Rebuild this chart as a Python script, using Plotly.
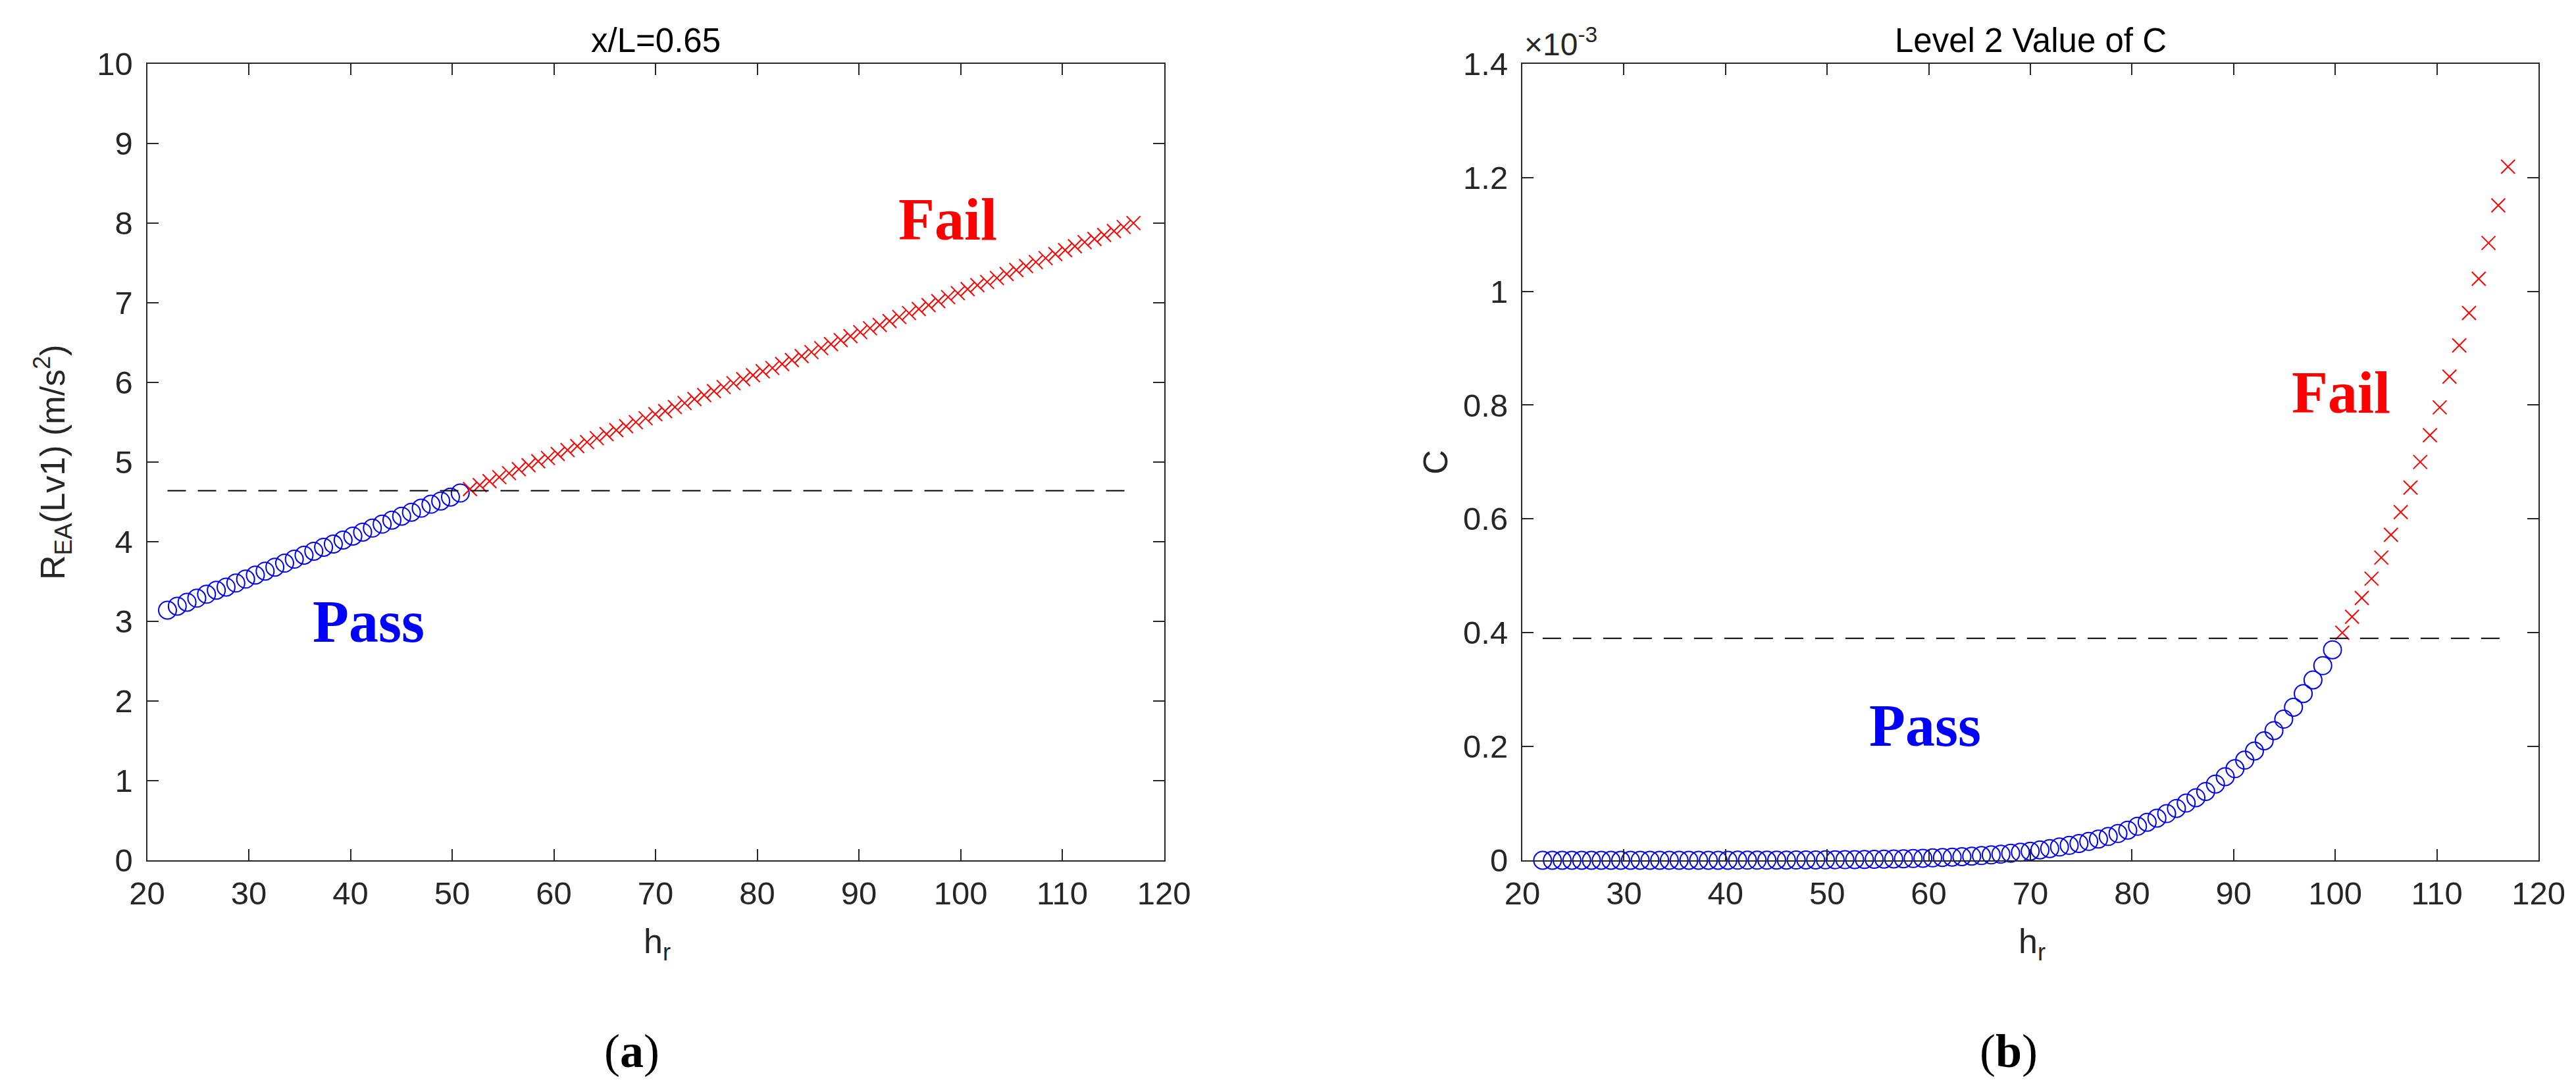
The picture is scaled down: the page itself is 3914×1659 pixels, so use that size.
import plotly.graph_objects as go

# h_r values (100 points from 22 to 117)
hr = [22.00, 22.96, 23.92, 24.88, 25.84, 26.80, 27.76, 28.72, 29.68, 30.64,
      31.60, 32.56, 33.52, 34.47, 35.43, 36.39, 37.35, 38.31, 39.27, 40.23,
      41.19, 42.15, 43.11, 44.07, 45.03, 45.99, 46.95, 47.91, 48.87, 49.83,
      50.79, 51.75, 52.71, 53.67, 54.63, 55.59, 56.55, 57.51, 58.46, 59.42,
      60.38, 61.34, 62.30, 63.26, 64.22, 65.18, 66.14, 67.10, 68.06, 69.02,
      69.98, 70.94, 71.90, 72.86, 73.82, 74.78, 75.74, 76.70, 77.66, 78.62,
      79.58, 80.54, 81.49, 82.45, 83.41, 84.37, 85.33, 86.29, 87.25, 88.21,
      89.17, 90.13, 91.09, 92.05, 93.01, 93.97, 94.93, 95.89, 96.85, 97.81,
      98.77, 99.73, 100.69, 101.65, 102.61, 103.57, 104.53, 105.48, 106.44, 107.40,
      108.36, 109.32, 110.28, 111.24, 112.20, 113.16, 114.12, 115.08, 116.04, 117.00]

# (a) R_EA(Lv1), m/s^2
r_ea_pass = [3.14, 3.19, 3.24, 3.29, 3.34, 3.39, 3.43, 3.48, 3.53, 3.58,
             3.63, 3.68, 3.73, 3.78, 3.83, 3.88, 3.93, 3.97, 4.02, 4.07,
             4.12, 4.17, 4.22, 4.27, 4.32, 4.37, 4.42, 4.47, 4.51, 4.56,
             4.61]
r_ea_fail = [4.66, 4.71, 4.76, 4.81, 4.86, 4.91, 4.96, 5.01, 5.05,
             5.10, 5.15, 5.20, 5.25, 5.30, 5.35, 5.40, 5.45, 5.50, 5.55,
             5.60, 5.64, 5.69, 5.74, 5.79, 5.84, 5.89, 5.94, 5.99, 6.04,
             6.09, 6.14, 6.18, 6.23, 6.28, 6.33, 6.38, 6.43, 6.48, 6.53,
             6.58, 6.63, 6.68, 6.72, 6.77, 6.82, 6.87, 6.92, 6.97, 7.02,
             7.07, 7.12, 7.17, 7.22, 7.26, 7.31, 7.36, 7.41, 7.46, 7.51,
             7.56, 7.61, 7.66, 7.71, 7.76, 7.80, 7.85, 7.90, 7.95, 8.00]
r_ea_limit = 4.64

# (b) C, in units of 1e-3
c_pass = [0.0000, 0.0000, 0.0000, 0.0000, 0.0000, 0.0000, 0.0000, 0.0000, 0.0000, 0.0001,
          0.0001, 0.0001, 0.0001, 0.0001, 0.0001, 0.0001, 0.0001, 0.0001, 0.0001, 0.0001,
          0.0002, 0.0002, 0.0002, 0.0002, 0.0003, 0.0004, 0.0005, 0.0006, 0.0007, 0.0008,
          0.0009, 0.0011, 0.0013, 0.0015, 0.0017, 0.0020, 0.0023, 0.0027, 0.0031, 0.0036,
          0.0042, 0.0049, 0.0056, 0.0064, 0.0073, 0.0083, 0.0095, 0.0108, 0.0124, 0.0141,
          0.0160, 0.0182, 0.0206, 0.0233, 0.0262, 0.0295, 0.0332, 0.0373, 0.0418, 0.0470,
          0.0530, 0.0598, 0.0668, 0.0740, 0.0820, 0.0912, 0.1005, 0.1100, 0.1210, 0.1340,
          0.1470, 0.1610, 0.1760, 0.1920, 0.2100, 0.2280, 0.2480, 0.2690, 0.2930, 0.3170,
          0.3420, 0.3700]
c_fail = [0.400, 0.428, 0.461, 0.495, 0.532, 0.572, 0.612, 0.655, 0.700, 0.747,
          0.796, 0.850, 0.905, 0.962, 1.022, 1.085, 1.151, 1.219]
c_limit = 0.39

x_ticks = [20, 30, 40, 50, 60, 70, 80, 90, 100, 110, 120]
ya_ticks = [0, 1, 2, 3, 4, 5, 6, 7, 8, 9, 10]
yb_ticks = [0, 0.2, 0.4, 0.6, 0.8, 1.0, 1.2, 1.4]
yb_labels = ["0", "0.2", "0.4", "0.6", "0.8", "1", "1.2", "1.4"]

W, H = 3914, 1659
BLUE, RED, AX = "#0000FF", "#FF0000", "#262626"
SANS, SERIF = "Liberation Sans", "Liberation Serif"

na, nb = len(r_ea_pass), len(c_pass)

fig = go.Figure()

circle = dict(symbol="circle-open", size=27, color=BLUE, line=dict(width=2, color=BLUE))
cross = dict(symbol="x-thin-open", size=21, color=RED, line=dict(width=2, color=RED))
dash = dict(color="black", width=2, dash="28px,18px")

# panel (a)
fig.add_trace(go.Scatter(x=hr[:na], y=r_ea_pass, mode="markers", marker=circle,
                         cliponaxis=False, xaxis="x", yaxis="y"))
fig.add_trace(go.Scatter(x=hr[na:], y=r_ea_fail, mode="markers", marker=cross,
                         cliponaxis=False, xaxis="x", yaxis="y"))
fig.add_trace(go.Scatter(x=[hr[0], hr[-1]], y=[r_ea_limit, r_ea_limit], mode="lines",
                         line=dash, xaxis="x", yaxis="y"))

# panel (b)
fig.add_trace(go.Scatter(x=hr[:nb], y=c_pass, mode="markers", marker=circle,
                         cliponaxis=False, xaxis="x2", yaxis="y2"))
fig.add_trace(go.Scatter(x=hr[nb:], y=c_fail, mode="markers", marker=cross,
                         cliponaxis=False, xaxis="x2", yaxis="y2"))
fig.add_trace(go.Scatter(x=[hr[0], hr[-1]], y=[c_limit, c_limit], mode="lines",
                         line=dash, xaxis="x2", yaxis="y2"))

axis_style = dict(showgrid=False, zeroline=False, showline=True, linecolor=AX, linewidth=2,
                  mirror="ticks", ticks="inside", ticklen=17, tickwidth=2, tickcolor=AX,
                  automargin=False,
                  tickfont=dict(family=SANS, size=49, color=AX))

ydom = [1 - 1299 / H, 1 - 88.8 / H]
fig.update_layout(
    width=W, height=H, showlegend=False,
    margin=dict(l=0, r=0, t=0, b=0, autoexpand=False),
    paper_bgcolor="white", plot_bgcolor="white",
    xaxis=dict(domain=[215.6 / W, 1760.5 / W], range=[20, 120], tickvals=x_ticks,
               anchor="y", ticklabelstandoff=6, **axis_style),
    yaxis=dict(domain=ydom, range=[0, 10], tickvals=ya_ticks, anchor="x",
               ticklabelstandoff=10, **axis_style),
    xaxis2=dict(domain=[2305 / W, 3849 / W], range=[20, 120], tickvals=x_ticks,
                anchor="y2", ticklabelstandoff=6, **axis_style),
    yaxis2=dict(domain=ydom, range=[0, 1.4], tickvals=yb_ticks, ticktext=yb_labels,
                anchor="x2", ticklabelstandoff=10, **axis_style),
)


def px_ann(text, x, y, size, color="black", family=SANS, xanchor="center",
           yanchor="middle", angle=0):
    fig.add_annotation(text=text, x=x / W, y=1 - y / H, xref="paper", yref="paper",
                       showarrow=False, xanchor=xanchor, yanchor=yanchor, textangle=angle,
                       font=dict(family=family, size=size, color=color))


# titles
px_ann("x/L=0.65", 988, 84, 51, yanchor="bottom")
px_ann("Level 2 Value of C", 3077, 84, 51, yanchor="bottom")
px_ann("×10<sup>-3</sup>", 2306, 88, 48, color=AX, xanchor="left", yanchor="bottom")

# axis labels
px_ann("h<sub>r</sub>", 990, 1391, 52, color=AX, yanchor="top")
px_ann("h<sub>r</sub>", 3079, 1391, 52, color=AX, yanchor="top")
px_ann("R<sub>EA</sub>(Lv1) (m/s<sup>2</sup>)", 72, 694, 52, color=AX, angle=-90)
px_ann("C", 2173, 694, 52, color=AX, angle=-90)

# pass / fail labels
px_ann("<b>Pass</b>", 552, 936, 90, color=BLUE, family=SERIF)
px_ann("<b>Fail</b>", 1432, 325, 90, color=RED, family=SERIF)
px_ann("<b>Pass</b>", 2917, 1094, 90, color=BLUE, family=SERIF)
px_ann("<b>Fail</b>", 3549, 588, 90, color=RED, family=SERIF)

# panel letters
px_ann("(<b>a</b>)", 952, 1589, 72, family=SERIF)
px_ann("(<b>b</b>)", 3044, 1589, 72, family=SERIF)

fig.write_html("out.html")
